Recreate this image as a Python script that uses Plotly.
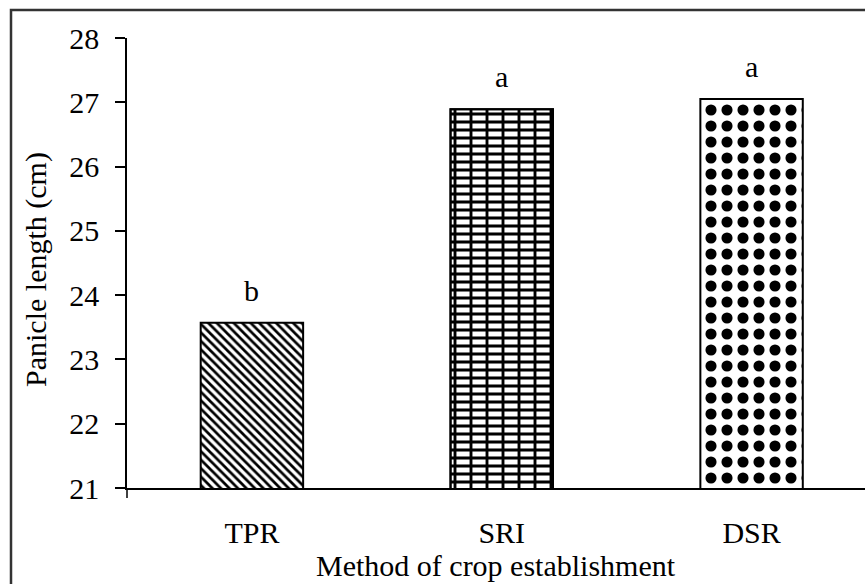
import plotly.graph_objects as go

# Data
methods = ["TPR", "SRI", "DSR"]
panicle_length = [23.57, 26.89, 27.05]
significance = ["b", "a", "a"]
y_ticks = [21, 22, 23, 24, 25, 26, 27, 28]

FONT = "Liberation Serif, Times New Roman, serif"
W, H = 865, 584
ML, MR, MT, MB = 127, 0, 38, 96
PW, PH = W - ML - MR, H - MT - MB

def px_x(px):
    return (px - ML) / PW

def px_y(py):
    return (H - MB - py) / PH

fig = go.Figure()

# Main bars, each with its own fill pattern
fig.add_trace(go.Bar(
    x=methods,
    y=panicle_length,
    width=0.41,
    marker=dict(
        color="white",
        line=dict(color="black", width=2),
        pattern=dict(
            shape=["\\", "-", "."],
            size=[6, 8, 16],
            solidity=[0.45, 0.38, 0.38],
            fgcolor="black",
            fgopacity=1,
            bgcolor="white",
            fillmode="overlay",
        ),
    ),
    showlegend=False,
    hoverinfo="skip",
))

# Vertical joints of the brick fill on SRI
fig.add_trace(go.Bar(
    x=[methods[1]],
    y=[panicle_length[1]],
    width=0.41,
    marker=dict(
        color="rgba(0,0,0,0)",
        line=dict(color="black", width=2),
        pattern=dict(
            shape="|",
            size=16,
            solidity=0.18,
            fgcolor="black",
            fgopacity=1,
            bgcolor="rgba(0,0,0,0)",
            fillmode="overlay",
        ),
    ),
    showlegend=False,
    hoverinfo="skip",
))

# Significance letters above bars
for m, v, s in zip(methods, panicle_length, significance):
    fig.add_annotation(
        x=m, y=v, text=s, showarrow=False,
        yanchor="bottom", yshift=14,
        font=dict(family=FONT, size=30, color="black"),
    )

# Axis titles
fig.add_annotation(
    xref="paper", yref="paper", x=0.5, y=px_y(565),
    text="Method of crop establishment", showarrow=False,
    xanchor="center", yanchor="middle", borderpad=0,
    font=dict(family=FONT, size=30, color="black"),
)
fig.add_annotation(
    xref="paper", yref="paper", x=px_x(36), y=px_y(270),
    text="Panicle length (cm)", showarrow=False, textangle=-90,
    xanchor="center", yanchor="middle",
    font=dict(family=FONT, size=30, color="black"),
)

# Outer frame and the short y-axis extension below the x-axis
fig.add_shape(
    type="rect", xref="paper", yref="paper",
    x0=px_x(11), x1=px_x(W + 20), y0=px_y(H + 20), y1=px_y(10),
    line=dict(color="#333333", width=2.5), fillcolor="rgba(0,0,0,0)",
    layer="below",
)
fig.add_shape(
    type="line", xref="paper", yref="paper",
    x0=0, x1=0, y0=0, y1=px_y(H - MB + 10),
    line=dict(color="black", width=1.5),
)

fig.update_layout(
    width=W, height=H,
    margin=dict(l=ML, r=MR, t=MT, b=MB, pad=0),
    paper_bgcolor="white",
    plot_bgcolor="white",
    barmode="overlay",
    font=dict(family=FONT, size=30, color="black"),
    showlegend=False,
)

fig.update_xaxes(
    range=[-0.5, 2.454],
    showline=True, linecolor="black", linewidth=2,
    ticks="", showgrid=False, zeroline=False,
    tickfont=dict(family=FONT, size=30, color="black"),
    ticklabelstandoff=17,
)
fig.update_yaxes(
    range=[21, 28],
    tickvals=y_ticks,
    showline=True, linecolor="black", linewidth=1.5,
    ticks="outside", ticklen=10, tickwidth=1.5, tickcolor="black",
    showgrid=False, zeroline=False,
    tickfont=dict(family=FONT, size=30, color="black"),
    ticklabelstandoff=10,
)

fig.write_html("out.html")
